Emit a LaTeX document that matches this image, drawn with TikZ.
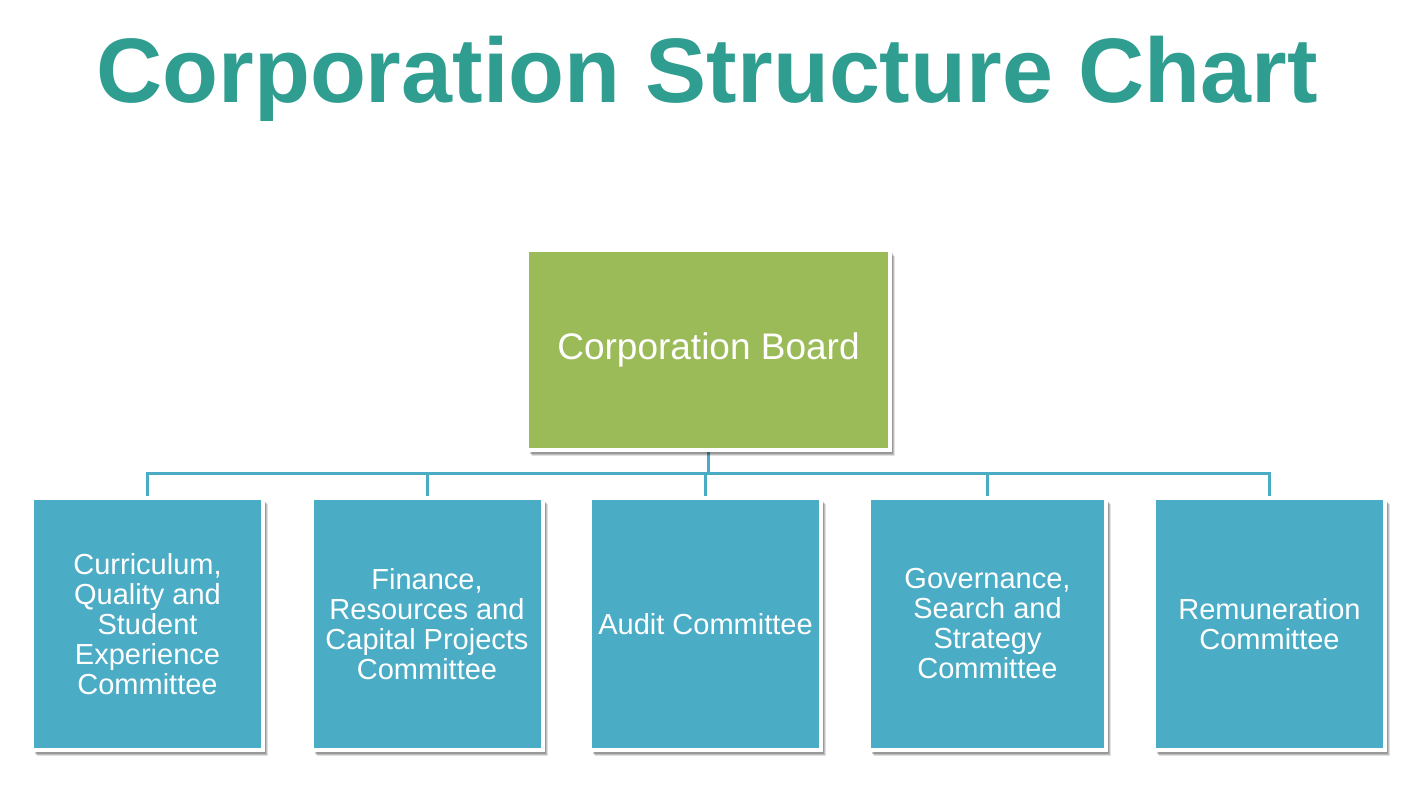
\documentclass[tikz,border=0pt]{standalone}
\usepackage{fontspec}
\setmainfont{Liberation Sans}
\usetikzlibrary{shadows,backgrounds}
\definecolor{titlecol}{HTML}{2F9E91}
\definecolor{boardgreen}{HTML}{9BBB59}
\definecolor{compblue}{HTML}{4BACC6}
\definecolor{linecol}{HTML}{4BACC6}
\tikzset{
  boxshadow/.style={drop shadow={shadow xshift=5pt,shadow yshift=-6pt,opacity=0.12,fill=black},
                    drop shadow={shadow xshift=4pt,shadow yshift=-5pt,opacity=0.15,fill=black},
                    drop shadow={shadow xshift=3pt,shadow yshift=-3.5pt,opacity=0.2,fill=black}},
  boardbox/.style={draw=white,line width=4pt,fill=boardgreen,minimum width=363pt,minimum height=200pt,
    inner sep=0pt,text=white,font=\fontsize{37}{40}\selectfont,align=center,boxshadow},
  combox/.style={draw=white,line width=4pt,fill=compblue,minimum width=231pt,minimum height=252pt,
    inner sep=0pt,text=white,font=\fontsize{29}{30}\selectfont,align=center,boxshadow},
  conn/.style={draw=linecol,line width=3pt},
  titletext/.style={text=titlecol,font=\fontsize{91.6}{100}\selectfont\bfseries,inner sep=0pt}
}
\begin{document}
\begin{tikzpicture}[x=1pt,y=-1pt]
\useasboundingbox (0,0) rectangle (1424,786);
\node[titletext,anchor=base] (title) at (707,103) {Corporation Structure Chart};
\node[boardbox] (board) at (708.5,350) {Corporation Board};
\node[combox] (c1) at (147.5,624) {Curriculum,\\Quality and\\Student\\Experience\\Committee};
\node[combox] (c2) at (427,624) {Finance,\\Resources and\\Capital Projects\\Committee};
\node[combox] (c3) at (705.5,624) {Audit Committee};
\node[combox,minimum width=237pt] (c4) at (987.5,624) {Governance,\\Search and\\Strategy\\Committee};
\node[combox] (c5) at (1269.5,624) {Remuneration\\Committee};
\coordinate (bus) at (0,473);
\begin{pgfonlayer}{background}
\fill[white] (0,0) rectangle (1424,786);
\draw[conn] (board.south) -- (board.south |- bus);
\draw[conn,line cap=rect] (c1.north |- bus) -- (c5.north |- bus);
\foreach \c in {c1,c2,c3,c4,c5}{
  \draw[conn] (\c.north |- bus) -- (\c.north);
}
\end{pgfonlayer}
\end{tikzpicture}
\end{document}
